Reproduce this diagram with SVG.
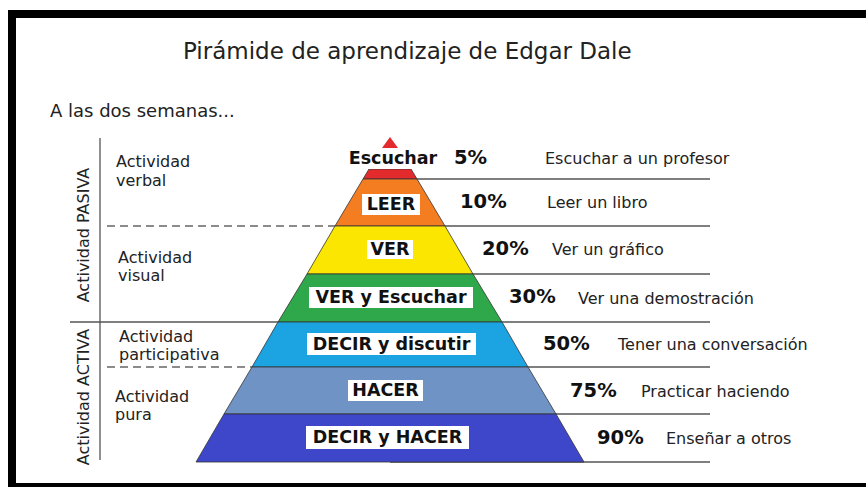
<svg xmlns="http://www.w3.org/2000/svg" width="866" height="487" viewBox="0 0 866 487">
<style>
.reg{font-family:"DejaVu Sans","Liberation Sans",sans-serif;fill:#222;}
.lab{font-family:"DejaVu Sans","Liberation Sans",sans-serif;font-weight:bold;font-size:17.5px;fill:#111;text-anchor:middle;}
.pct{font-family:"DejaVu Sans","Liberation Sans",sans-serif;font-weight:bold;font-size:19.5px;fill:#111;}
.desc{font-family:"DejaVu Sans","Liberation Sans",sans-serif;font-size:16px;fill:#222;}
.side{font-family:"DejaVu Sans","Liberation Sans",sans-serif;font-size:16px;fill:#222;}
.box{fill:#fff;}
.lvl{stroke:#333;stroke-width:0.8;}
.ln{stroke:#555;stroke-width:1.3;fill:none;}
.dash{stroke:#666;stroke-width:1.3;stroke-dasharray:8 5;fill:none;}
</style>
<rect x="0" y="0" width="866" height="487" fill="#fff"/>
<!-- frame -->
<rect x="8" y="10" width="858" height="8" fill="#000"/>
<rect x="8" y="10" width="8" height="477" fill="#000"/>
<rect x="8" y="483" width="858" height="4" fill="#000"/>

<text class="reg" x="183" y="59" font-size="23">Pirámide de aprendizaje de Edgar Dale</text>
<text class="reg" x="50" y="117" font-size="18">A las dos semanas...</text>

<g id="lines">
<line class="ln" x1="100" y1="138" x2="100" y2="460"/>
<line class="ln" x1="70" y1="322" x2="710" y2="322"/>
<line class="dash" x1="107" y1="226" x2="390" y2="226"/>
<line class="dash" x1="107" y1="367" x2="390" y2="367"/>
<line class="ln" x1="390" y1="179" x2="710" y2="179"/>
<line class="ln" x1="390" y1="226" x2="710" y2="226"/>
<line class="ln" x1="390" y1="274" x2="710" y2="274"/>
<line class="ln" x1="390" y1="367" x2="710" y2="367"/>
<line class="ln" x1="390" y1="414" x2="710" y2="414"/>
<line class="ln" x1="390" y1="462" x2="710" y2="462"/>
</g>

<g id="side-labels">
<text class="side" transform="translate(89,235) rotate(-90)" text-anchor="middle">Actividad PASIVA</text>
<text class="side" transform="translate(89,397) rotate(-90)" text-anchor="middle">Actividad ACTIVA</text>
<text class="side" x="116" y="167">Actividad</text>
<text class="side" x="116" y="186">verbal</text>
<text class="side" x="118" y="263">Actividad</text>
<text class="side" x="118" y="281">visual</text>
<text class="side" x="119" y="342">Actividad</text>
<text class="side" x="119" y="360">participativa</text>
<text class="side" x="115" y="402">Actividad</text>
<text class="side" x="115" y="420">pura</text>
</g>

<g id="level-escuchar">
<polygon points="390,137 382,148 398,148" fill="#e32b2e"/>
<polygon class="lvl" points="369,169 411,169 417,179 363,179" fill="#e32b2e"/>
<rect class="box" x="346" y="148" width="94" height="21"/>
<text class="lab" x="393" y="164">Escuchar</text>
<text class="pct" x="454" y="164">5%</text>
<text class="desc" x="545" y="164">Escuchar a un profesor</text>
</g>

<g id="level-leer">
<polygon class="lvl" points="363,179 417,179 445,226 335,226" fill="#f47d22"/>
<rect class="box" x="362" y="194" width="58" height="21"/>
<text class="lab" x="391" y="210">LEER</text>
<text class="pct" x="460" y="208">10%</text>
<text class="desc" x="547" y="208">Leer un libro</text>
</g>

<g id="level-ver">
<polygon class="lvl" points="335,226 445,226 473,274 307,274" fill="#fae600"/>
<rect class="box" x="367" y="240" width="46" height="19"/>
<text class="lab" x="390" y="255">VER</text>
<text class="pct" x="482" y="255">20%</text>
<text class="desc" x="552" y="255">Ver un gráfico</text>
</g>

<g id="level-ver-escuchar">
<polygon class="lvl" points="307,274 473,274 502,322 278,322" fill="#2ea84a"/>
<rect class="box" x="309" y="287" width="164" height="21"/>
<text class="lab" x="391" y="303">VER y Escuchar</text>
<text class="pct" x="509" y="303">30%</text>
<text class="desc" x="578" y="304">Ver una demostración</text>
</g>

<g id="level-decir-discutir">
<polygon class="lvl" points="278,322 502,322 528,367 252,367" fill="#1ca3e2"/>
<rect class="box" x="307" y="333" width="169" height="22"/>
<text class="lab" x="391.5" y="350">DECIR y discutir</text>
<text class="pct" x="543" y="350">50%</text>
<text class="desc" x="618" y="350">Tener una conversación</text>
</g>

<g id="level-hacer">
<polygon class="lvl" points="252,367 528,367 556,414 224,414" fill="#7093c6"/>
<rect class="box" x="348" y="380" width="75" height="21"/>
<text class="lab" x="385.5" y="396">HACER</text>
<text class="pct" x="570" y="397">75%</text>
<text class="desc" x="641" y="397">Practicar haciendo</text>
</g>

<g id="level-decir-hacer">
<polygon class="lvl" points="224,414 556,414 584,462 196,462" fill="#3e47c9"/>
<rect class="box" x="306" y="426" width="163" height="23"/>
<text class="lab" x="387.5" y="443">DECIR y HACER</text>
<text class="pct" x="597" y="444">90%</text>
<text class="desc" x="666" y="444">Enseñar a otros</text>
</g>
</svg>
